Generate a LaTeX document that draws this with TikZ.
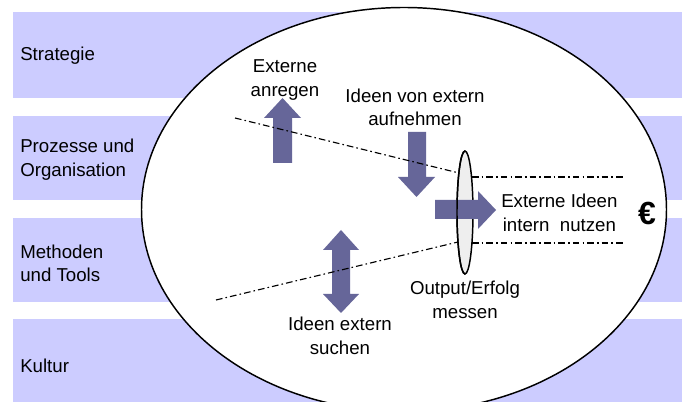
\documentclass[tikz,border=0pt]{standalone}
\usepackage{fontspec}
\setmainfont{Liberation Sans}
\definecolor{bandcol}{HTML}{CCCCFF}
\definecolor{arrcol}{HTML}{666699}
\definecolor{lenscol}{HTML}{EEEEEE}
\tikzset{
  band/.style={fill=bandcol},
  arr/.style={fill=arrcol},
  dashdot/.style={line width=0.85pt, dash pattern=on 5pt off 2.3pt on 1.2pt off 2.3pt},
  lbl/.style={font=\fontsize{14}{17.6}\selectfont, align=center, inner sep=0pt},
  sidelbl/.style={lbl, align=left, anchor=west},
}
\begin{document}
\begin{tikzpicture}[x=0.75pt,y=-0.75pt]
\useasboundingbox (0,0) rectangle (682,402);
\clip (0,0) rectangle (682,402);
\fill[white] (0,0) rectangle (682,402);
% bands
\fill[band] (13,12) rectangle (682,98);
\fill[band] (13,116) rectangle (682,200);
\fill[band] (13,218) rectangle (682,302);
\fill[band] (13,319) rectangle (682,402);
% big ellipse
\draw[line width=1.1pt, fill=white] (404,209.5) ellipse [x radius=262.5, y radius=202];
% side labels
\node[sidelbl] (strat) at (20,56) {Strategie};
\node[sidelbl] (proz) at (20,159.5) {Prozesse und\\Organisation};
\node[sidelbl] (meth) at (20,263.5) {Methoden\\und Tools};
\node[sidelbl] (kult) at (20,366) {Kultur};
% arrows
\fill[arr] (273,163) -- (273,118) -- (264,118) -- (282.5,98) -- (301,118) -- (292,118) -- (292,163) -- cycle;
\fill[arr] (408,132) -- (408,177) -- (398,177) -- (416.5,197) -- (435,177) -- (426,177) -- (426,132) -- cycle;
\fill[arr] (341,230) -- (359,250) -- (350,250) -- (350,294) -- (359,294) -- (341,313) -- (323,294) -- (332,294) -- (332,250) -- (323,250) -- cycle;
% dash-dot lines
\coordinate (u1) at (235,118);
\coordinate (u2) at (459,173);
\coordinate (u3) at (472,177);
\coordinate (u4) at (623,177);
\coordinate (l1) at (216,300);
\coordinate (l2) at (458,242);
\coordinate (l3) at (472,243);
\coordinate (l4) at (623,243);
\draw[dashdot] (u1) -- (u2);
\draw[dashdot] (u3) -- (u4);
\draw[dashdot] (l1) -- (l2);
\draw[dashdot] (l3) -- (l4);
% lens
\draw[line width=1.1pt, fill=lenscol] (465,212.5) ellipse [x radius=8, y radius=61.5];
% right arrow through lens
\fill[arr] (435,200) -- (478,200) -- (478,191) -- (496,210) -- (478,229) -- (478,219) -- (435,219) -- cycle;
\begin{scope}
\clip (440,140) rectangle (465,290);
\draw[line width=1.1pt] (465,212.5) ellipse [x radius=8, y radius=61.5];
\end{scope}
% labels
\node[lbl] (anreg) at (285,80) {Externe\\anregen};
\node[lbl] (aufn) at (415,107.5) {Ideen von extern\\aufnehmen};
\node[lbl, anchor=west] (nutz) at (501,213) {Externe Ideen\\intern\ \ nutzen};
\node[lbl] (outp) at (465,300) {Output/Erfolg\\messen};
\node[lbl] (such) at (340,336) {Ideen extern\\suchen};
\node[inner sep=0pt, font=\fontsize{24}{26}\selectfont\bfseries] (euro) at (647,213) {€};
\end{tikzpicture}
\end{document}
